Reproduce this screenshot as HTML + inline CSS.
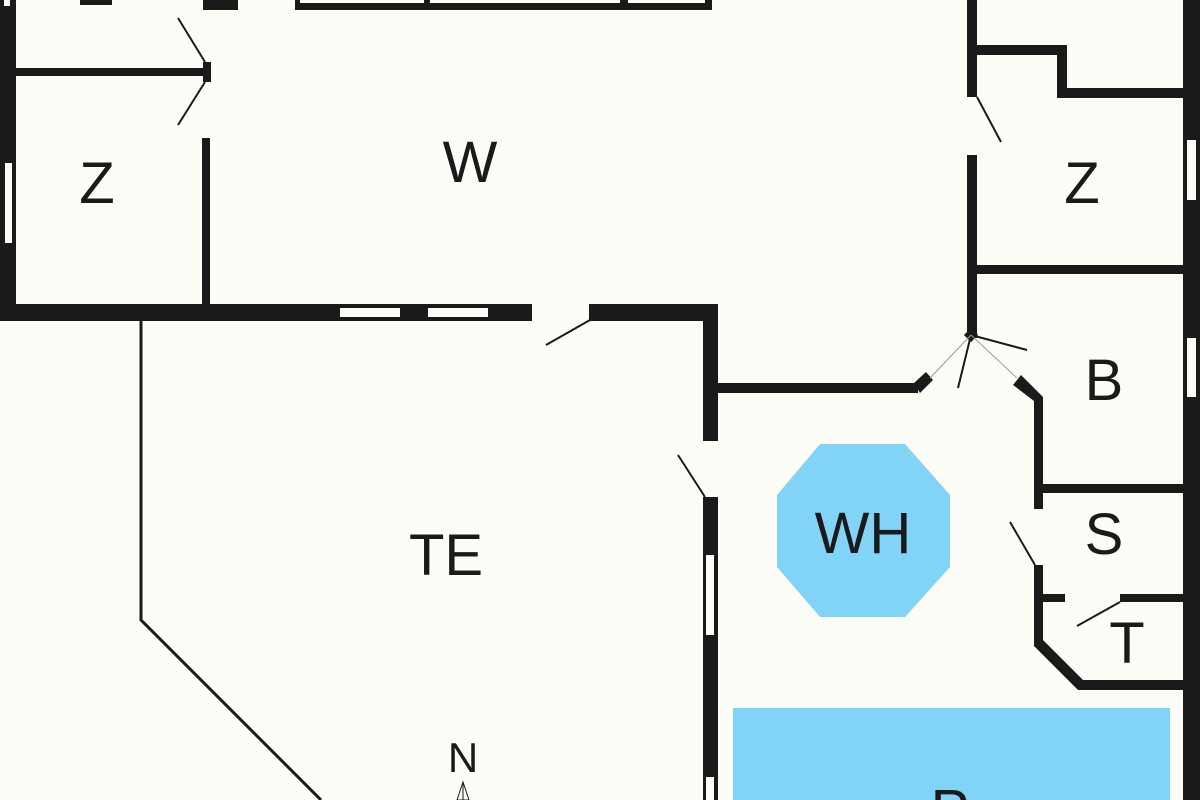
<!DOCTYPE html>
<html><head><meta charset="utf-8"><style>
html,body{margin:0;padding:0;background:#fdfdf8;width:1200px;height:800px;overflow:hidden;}
svg{display:block;}
text{font-family:"Liberation Sans",sans-serif;fill:#1a1a1a;}
</style></head><body>
<svg width="1200" height="800" viewBox="0 0 1200 800" xmlns="http://www.w3.org/2000/svg">
<rect width="1200" height="800" fill="#fdfdf8"/>
<g fill="#1a1a1a">
<rect x="0" y="0" width="16" height="321"/>
<rect x="4" y="0" width="6" height="6" fill="#fdfdf8"/>
<rect x="5" y="163" width="7" height="80" fill="#fdfdf8"/>
<rect x="80" y="0" width="32" height="5"/>
<rect x="16" y="68" width="190" height="8"/>
<rect x="203" y="62" width="8" height="20"/>
<rect x="202" y="138" width="8" height="170"/>
<rect x="203" y="0" width="35" height="10"/>
<rect x="295" y="0" width="417" height="10"/>
<rect x="300" y="0" width="124" height="3" fill="#fdfdf8"/>
<rect x="430" y="0" width="190" height="3" fill="#fdfdf8"/>
<rect x="628" y="0" width="77" height="3" fill="#fdfdf8"/>
<rect x="0" y="304" width="532" height="17"/>
<rect x="340" y="308" width="60" height="9" fill="#fdfdf8"/>
<rect x="428" y="308" width="60" height="9" fill="#fdfdf8"/>
<rect x="589" y="304" width="129" height="17"/>
<rect x="703" y="304" width="15" height="137"/>
<rect x="703" y="497" width="15" height="303"/>
<rect x="706" y="555" width="8" height="80" fill="#fdfdf8"/>
<rect x="706" y="777" width="8" height="23" fill="#fdfdf8"/>
<rect x="718" y="383" width="200" height="10"/>
<polygon points="914,383 926,372 933,380 920,393"/>
<rect x="967" y="0" width="10" height="97"/>
<rect x="967" y="155" width="10" height="183"/>
<rect x="966" y="330" width="10" height="10" transform="rotate(45 971 335)"/>
<rect x="977" y="45" width="88" height="10"/>
<rect x="1057" y="45" width="10" height="53"/>
<rect x="1057" y="88" width="126" height="10"/>
<rect x="977" y="265" width="206" height="9"/>
<rect x="1183" y="0" width="17" height="800"/>
<rect x="1187" y="140" width="9" height="60" fill="#fdfdf8"/>
<rect x="1187" y="338" width="9" height="59" fill="#fdfdf8"/>
<polygon points="1013,385 1021,375 1043,397 1043,402 1034,402 1034,401"/>
<rect x="1034" y="398" width="9" height="111"/>
<rect x="1034" y="565" width="9" height="78"/>
<rect x="1043" y="484" width="140" height="9"/>
<rect x="1043" y="594" width="22" height="8"/>
<rect x="1120" y="594" width="63" height="8"/>
<polygon points="1034,640 1043,640 1083,680 1183,680 1183,690 1078,690 1034,646"/>
</g>
<polyline points="141,321 141,620 321,800" fill="none" stroke="#1a1a1a" stroke-width="3"/>
<g stroke="#1a1a1a" stroke-width="2" fill="none">
<line x1="205" y1="62" x2="178" y2="18"/>
<line x1="205" y1="82" x2="178" y2="125"/>
<line x1="590" y1="320" x2="546" y2="345"/>
<line x1="705" y1="497" x2="678" y2="455"/>
<line x1="977" y1="97" x2="1001" y2="142"/>
<line x1="971" y1="335" x2="958" y2="388"/>
<line x1="971" y1="335" x2="1027" y2="350"/>
<line x1="1035" y1="565" x2="1010" y2="522"/>
<line x1="1120" y1="602" x2="1077" y2="626"/>
</g>
<g stroke="#999" stroke-width="1">
<line x1="971" y1="335" x2="930" y2="378"/>
<line x1="971" y1="335" x2="1017" y2="378"/>
</g>
<polygon points="820,444 905,444 950,495 950,567 905,617 820,617 777,567 777,495" fill="#82d4f6"/>
<rect x="733" y="708" width="437" height="92" fill="#82d4f6"/>
<polygon points="463,782 457,800 469,800" fill="none" stroke="#1a1a1a" stroke-width="1"/>
<line x1="463" y1="782" x2="463" y2="800" stroke="#1a1a1a" stroke-width="1"/>
<g font-size="58" text-anchor="middle">
<text x="470" y="182">W</text>
<text x="97" y="203">Z</text>
<text x="1082" y="203">Z</text>
<text x="1104" y="400">B</text>
<text x="1104" y="554">S</text>
<text x="1127" y="663">T</text>
<text x="446" y="575">TE</text>
<text x="863" y="553">WH</text>
<text x="950" y="830">P</text>
</g>
<text x="463" y="772" font-size="42" text-anchor="middle">N</text>
</svg>
</body></html>
